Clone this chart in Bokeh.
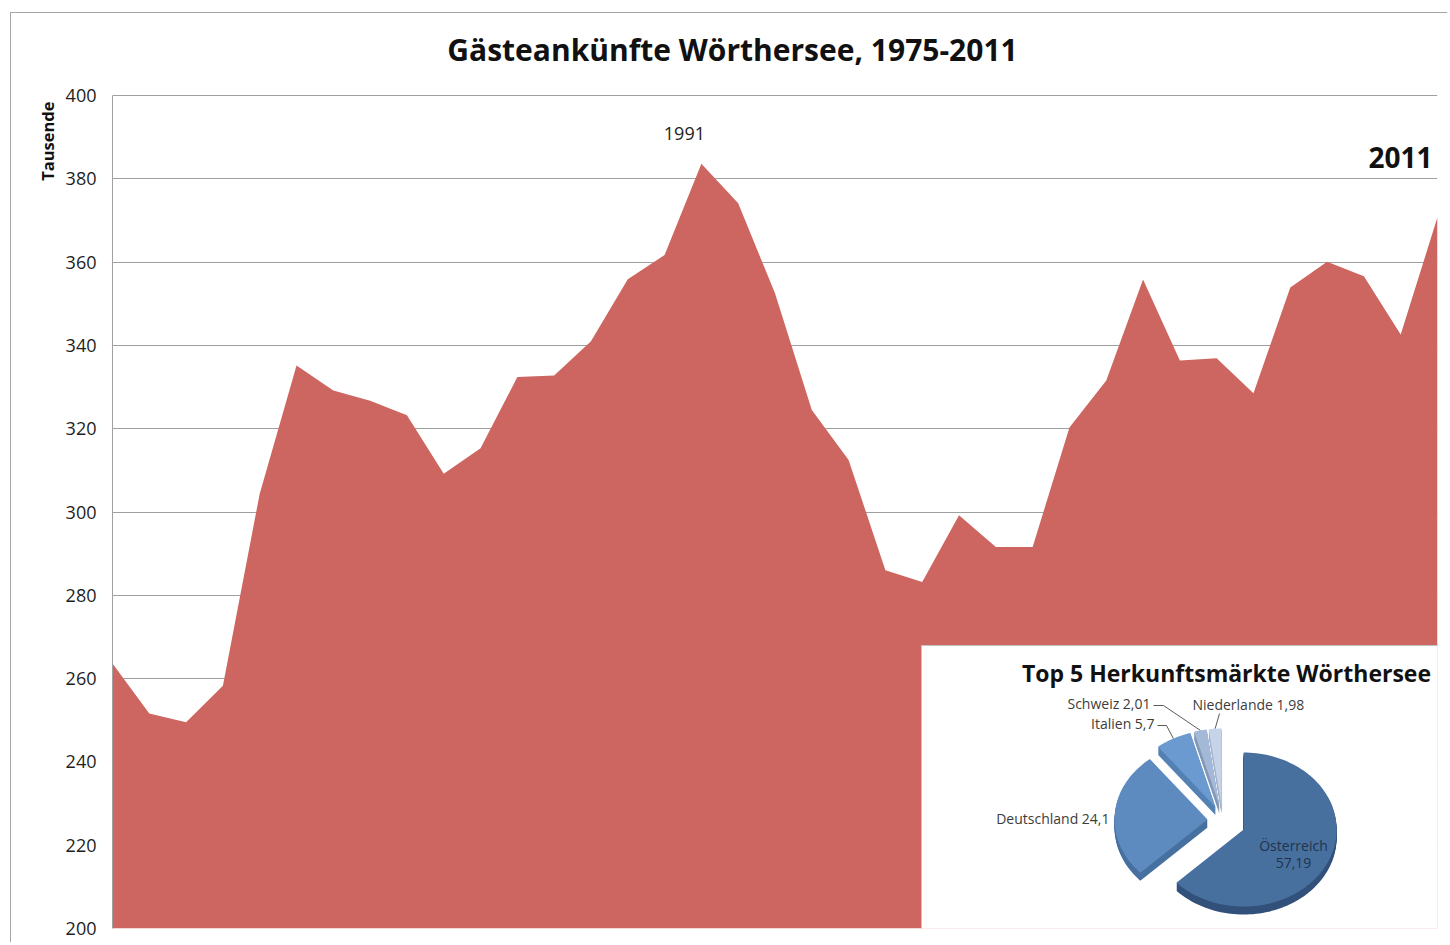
import math
from bokeh.plotting import figure
from bokeh.models import Range1d, FixedTicker, Label, Title
from bokeh.embed import file_html
from bokeh.resources import INLINE
from bokeh.core.properties import value

# ---------------- data ----------------
years = list(range(1975, 2012))
arrivals = [263.6, 251.6, 249.5, 258.3, 304.4, 335.2, 329.2, 326.7, 323.2, 309.2,
            315.3, 332.4, 332.8, 341.0, 355.9, 361.7, 383.6, 374.1, 352.5, 324.5,
            312.5, 286.0, 283.2, 299.2, 291.6, 291.6, 320.3, 331.6, 355.8, 336.4,
            336.9, 328.5, 353.9, 360.1, 356.6, 342.6, 370.8]
y_ticks = [200, 220, 240, 260, 280, 300, 320, 340, 360, 380, 400]

pie_names = ["Österreich", "Deutschland", "Italien", "Schweiz", "Niederlande"]
pie_values = [57.19, 24.1, 5.7, 2.01, 1.98]

# ---------------- styles ----------------
FONT = "Open Sans"
AREA = "#cd6660"
GRID = "#a0a0a0"
top_colors = ["#47709f", "#5e8bbf", "#6a9acf", "#a4b9d7", "#c6d4e9"]
side_colors = ["#32517a", "#46709f", "#5381b3", "#8498b6", "#a3b3cb"]
explode = [23, 15, 15, 15, 15]
pie_cx, pie_cy, pie_rx, pie_ry, pie_depth = 1222, 820, 93, 77, 8

# frame: x 112..1437, y 13..928 on the page; value 400 sits 82px below the frame top
PX_PER_UNIT = 833 / 200
y_top = 400 + 82 / PX_PER_UNIT

p = figure(width=1437, height=930,
           x_range=Range1d(1975, 2011), y_range=Range1d(200, y_top),
           output_backend="svg", toolbar_location=None, x_axis_location=None,
           min_border_left=101, min_border_right=11, min_border_top=0, min_border_bottom=15,
           background_fill_color="white", border_fill_color="white",
           outline_line_color=None)
p.margin = (12, 0, 0, 10)
p.styles = {"border-top": "1px solid #a6a6a6", "border-left": "1px solid #a6a6a6"}

# pixel-like helper ranges (frame mapped to page pixels) for the inset/annotations
p.extra_x_ranges = {"px": Range1d(112, 1437)}
p.extra_y_ranges = {"py": Range1d(928, 13)}

p.xgrid.visible = False
p.ygrid.ticker = FixedTicker(ticks=y_ticks)
p.ygrid.grid_line_color = GRID
p.yaxis.ticker = FixedTicker(ticks=y_ticks)
p.yaxis.bounds = (200, 400)
p.yaxis.axis_line_color = GRID
p.yaxis.major_tick_line_color = None
p.yaxis.minor_tick_line_color = None
p.yaxis.major_tick_out = 0
p.yaxis.major_tick_in = 0
p.yaxis.major_label_standoff = 16
p.yaxis.major_label_text_font = FONT
p.yaxis.major_label_text_font_size = "18px"
p.yaxis.major_label_text_color = "#1e1e1e"

p.add_layout(Title(text="Tausende", align="right", offset=88, standoff=8,
                   text_font=FONT, text_font_size="16.5px", text_font_style="bold",
                   text_color="#111111"), "left")

# main area
p.varea(x=years, y1=200, y2=arrivals, fill_color=AREA, fill_alpha=1.0)

# titles / labels
p.add_layout(Label(x=732, y=49, x_range_name="px", y_range_name="py",
                   text="Gästeankünfte Wörthersee, 1975-2011", text_font=FONT,
                   text_font_size="30px", text_font_style="bold", text_color="#111111",
                   text_align="center", text_baseline="middle"))
i_peak = arrivals.index(max(arrivals))
p.add_layout(Label(x=years[i_peak], y=arrivals[i_peak], text=str(years[i_peak]),
                   x_offset=-17, y_offset=24, text_font=FONT, text_font_size="18px",
                   text_color="#1e1e1e", text_align="center", text_baseline="bottom"))
p.add_layout(Label(x=1432, y=157, x_range_name="px", y_range_name="py",
                   text=str(years[-1]), text_font=FONT, text_font_size="28px",
                   text_font_style="bold", text_color="#111111",
                   text_align="right", text_baseline="middle"))

# ---------------- inset pie ----------------
p.quad(left=921, right=1500, top=645, bottom=1000, x_range_name="px", y_range_name="py",
       fill_color="white", line_color="#c2c2c2", line_width=1)
p.add_layout(Label(x=1226, y=672, x_range_name="px", y_range_name="py",
                   text="Top 5 Herkunftsmärkte Wörthersee", text_font=FONT,
                   text_font_size="23px", text_font_style="bold", text_color="#111111",
                   text_align="center", text_baseline="middle"))

total = sum(pie_values)
slices = []
a = 0.0
for v, e in zip(pie_values, explode):
    a0, a1 = a, a + v / total * 2 * math.pi
    am = (a0 + a1) / 2
    ox = pie_cx + e * math.sin(am)
    oy = pie_cy - e * math.cos(am)
    n = max(8, int((a1 - a0) / (2 * math.pi) * 180))
    xs = [ox] + [ox + pie_rx * math.sin(a0 + (a1 - a0) * k / n) for k in range(n + 1)]
    ys = [oy] + [oy - pie_ry * math.cos(a0 + (a1 - a0) * k / n) for k in range(n + 1)]
    slices.append((xs, ys, ox, oy, am))
    a = a1

side_xs, side_ys, side_cols = [], [], []
for (xs, ys, ox, oy, am), sc in zip(slices, side_colors):
    for d in range(1, pie_depth + 1):
        side_xs.append(xs)
        side_ys.append([y + d for y in ys])
        side_cols.append(sc)
p.patches(xs=side_xs, ys=side_ys, fill_color=side_cols, line_color=None,
          x_range_name="px", y_range_name="py")
p.patches(xs=[s[0] for s in slices], ys=[s[1] for s in slices], fill_color=top_colors,
          line_color=None, x_range_name="px", y_range_name="py")

def fmt(v):
    return str(v).replace(".", ",")

# outer labels
lab_x = [1109, 1154, 1150, 1192]
lab_y = [818, 723, 703, 704]
lab_align = ["right", "right", "right", "left"]
p.text(x=lab_x, y=lab_y, text=[f"{n} {fmt(v)}" for n, v in zip(pie_names[1:], pie_values[1:])],
       text_font=value(FONT), text_font_size="14px", text_color="#3c3c3c",
       text_align=lab_align, text_baseline="middle", x_range_name="px", y_range_name="py")
# inner label for the largest slice
p.text(x=[1293, 1293], y=[845, 862], text=[pie_names[0], fmt(pie_values[0])],
       text_font=value(FONT), text_font_size="14px", text_color="#22334a",
       text_align="center", text_baseline="middle", x_range_name="px", y_range_name="py")

# leader lines from labels to slice edges (Italien, Schweiz, Niederlande)
lead_xs, lead_ys = [], []
elbows = {2: [(1157, 725), (1166, 725)], 3: [(1153, 705), (1163, 705)], 4: [(1219, 713)]}
for i, pts in elbows.items():
    xs, ys, ox, oy, am = slices[i]
    ex = ox + pie_rx * math.sin(am)
    ey = oy - pie_ry * math.cos(am)
    lead_xs.append([q[0] for q in pts] + [ex])
    lead_ys.append([q[1] for q in pts] + [ey])
p.multi_line(xs=lead_xs, ys=lead_ys, line_color="#5a5a5a", line_width=1,
             x_range_name="px", y_range_name="py")

open("out.html", "w").write(file_html(p, INLINE))
